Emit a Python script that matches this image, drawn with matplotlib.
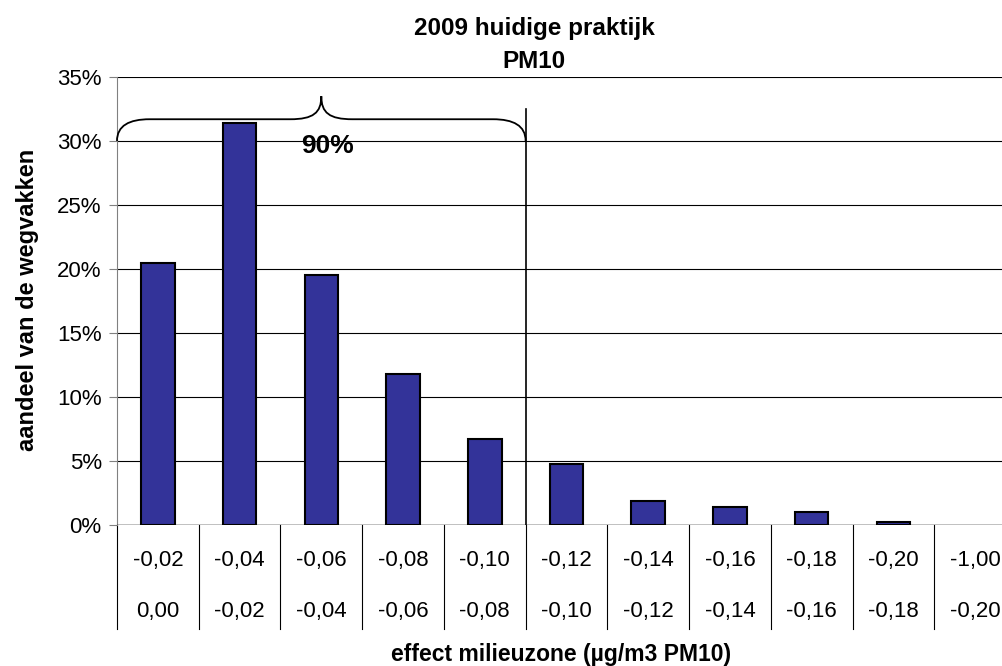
import matplotlib
matplotlib.use('Agg')
import matplotlib.pyplot as plt
from matplotlib.path import Path
from matplotlib.patches import PathPatch
from matplotlib.ticker import FuncFormatter

plt.rcParams['font.family'] = ['Liberation Sans', 'DejaVu Sans']

# klassen (bovengrens / ondergrens) en aandeel wegvakken
upper = ['-0,02', '-0,04', '-0,06', '-0,08', '-0,10', '-0,12',
         '-0,14', '-0,16', '-0,18', '-0,20', '-1,00']
lower = ['0,00', '-0,02', '-0,04', '-0,06', '-0,08', '-0,10',
         '-0,12', '-0,14', '-0,16', '-0,18', '-0,20']
share = [0.205, 0.314, 0.195, 0.118, 0.067, 0.048,
         0.019, 0.014, 0.010, 0.0025, 0.0]
group_n = 5          # eerste 5 klassen = 90%
group_label = '90%'

fig = plt.figure(figsize=(10.03, 6.66), dpi=100)
ax = fig.add_axes([117/1003, 141/666, 899/1003, 448/666])

x = list(range(len(share)))
bars = ax.bar(x, share, width=0.41, color='#333399', edgecolor='black',
              linewidth=1.5, zorder=3)
for b, v in zip(bars, share):
    if v == 0:
        b.set_visible(False)

ax.set_xlim(-0.5, len(share) - 0.5)
ax.set_ylim(0, 0.35)
ax.set_yticks([i * 0.05 for i in range(8)])
ax.yaxis.set_major_formatter(FuncFormatter(lambda v, p: f'{v*100:.0f}%'))
ax.tick_params(axis='y', labelsize=16, length=6, color='#808080', pad=5)
ax.set_xticks([])
ax.grid(axis='y', color='black', linewidth=0.8, zorder=0)
for s in ['top', 'right', 'bottom']:
    ax.spines[s].set_visible(False)
ax.spines['left'].set_color('#808080')
ax.axhline(0, color='black', linewidth=1, zorder=4)

# tabel onder de as
for i in x:
    ax.text(i, -0.080, upper[i], transform=ax.get_xaxis_transform(),
            ha='center', va='center', fontsize=16)
    ax.text(i, -0.193, lower[i], transform=ax.get_xaxis_transform(),
            ha='center', va='center', fontsize=16)
for i in range(len(share) + 1):
    ax.plot([i - 0.5, i - 0.5], [0, -0.232], color='black', linewidth=0.8,
            transform=ax.get_xaxis_transform(), clip_on=False)

# scheidingslijn en accolade boven de eerste groep
xl, xr = -0.5, group_n - 0.5
xm = (xl + xr) / 2
ax.plot([xr, xr], [0, 0.325], color='black', linewidth=1.2, zorder=4)
yb, yf, yp = 0.30, 0.317, 0.335
verts = [
    (xl, yb), (xl, 0.312), (xl + 0.15, yf), (xl + 0.4, yf),
    (xm - 0.38, yf),
    (xm - 0.1, yf), (xm, 0.322), (xm, yp),
    (xm, 0.322), (xm + 0.1, yf), (xm + 0.38, yf),
    (xr - 0.4, yf),
    (xr - 0.15, yf), (xr, 0.312), (xr, yb),
]
codes = [Path.MOVETO, Path.CURVE4, Path.CURVE4, Path.CURVE4,
         Path.LINETO,
         Path.CURVE4, Path.CURVE4, Path.CURVE4,
         Path.CURVE4, Path.CURVE4, Path.CURVE4,
         Path.LINETO,
         Path.CURVE4, Path.CURVE4, Path.CURVE4]
ax.add_patch(PathPatch(Path(verts, codes), facecolor='none',
                       edgecolor='black', linewidth=1.3, zorder=5, clip_on=False))
ax.text(xm + 0.08, 0.296, group_label, ha='center', va='center',
        fontsize=19, fontweight='bold', zorder=6)

fig.text(534/1003, 1 - 29/666, '2009 huidige praktijk', ha='center',
         va='center', fontsize=17.5, fontweight='bold')
fig.text(534/1003, 1 - 61/666, 'PM10', ha='center', va='center',
         fontsize=17.5, fontweight='bold')
fig.text(561/1003, 1 - 655/666, 'effect milieuzone (µg/m3 PM10)',
         ha='center', va='center', fontsize=16.5, fontweight='bold')
fig.text(28/1003, 1 - 300/666, 'aandeel van de wegvakken', ha='center',
         va='center', rotation=90, fontsize=17, fontweight='bold')

fig.savefig('out.png', dpi=100)
